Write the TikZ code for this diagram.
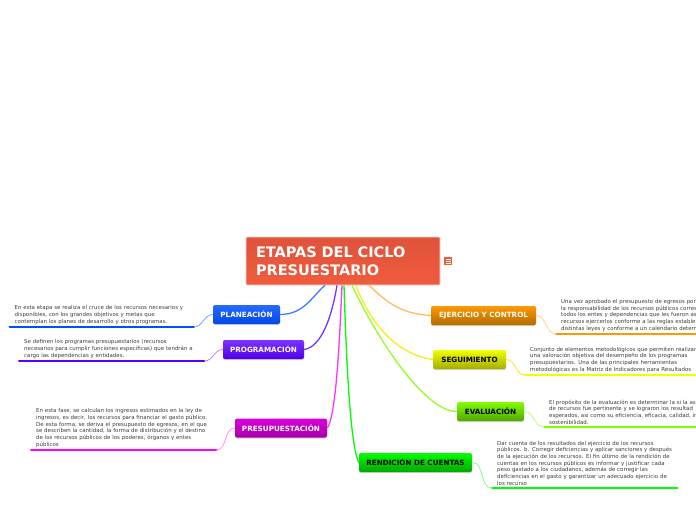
\documentclass[tikz,border=0pt]{standalone}
\usepackage{fontspec}
\setmainfont{DejaVu Sans}
\usepackage{xcolor}
\usetikzlibrary{positioning,calc}
\usetikzlibrary{shadows}
\definecolor{txtgray}{HTML}{3C3C3C}
\tikzset{
	central/.style={rectangle,rounded corners=1pt,draw=red!15,line width=0.6pt,top color=rootdark,bottom color=rootlight,
		minimum width=194pt,minimum height=48pt,inner sep=0pt,text width=174pt,align=left,
		text=white,font=\fontsize{14.5}{18}\selectfont\bfseries},
	topic/.style={rectangle,rounded corners=2pt,drop shadow={shadow xshift=0pt,shadow yshift=-1pt,opacity=0.35},
		minimum height=19pt,inner sep=0pt,font=\fontsize{7.2}{8}\selectfont\bfseries},
	note/.style={anchor=south west,inner xsep=5pt,inner ysep=2.6pt,align=left,text=txtgray,
		font=\fontsize{5.45}{6.67}\selectfont},
	rule/.style={line width=2pt,line cap=round},
	link/.style={line width=1.3pt},
	sublink/.style={line width=0.7pt},
}
\definecolor{rootdark}{HTML}{DF533B}
\definecolor{rootlight}{HTML}{F15B3D}
\definecolor{plan}{HTML}{0050FF}
\definecolor{prog}{HTML}{5A00FF}
\definecolor{pres}{HTML}{FF00FF}
\definecolor{ejer}{HTML}{FF9900}
\definecolor{segu}{HTML}{F0FF00}
\definecolor{eval}{HTML}{80FF00}
\definecolor{rend}{HTML}{00FF00}
\begin{document}
\begin{tikzpicture}[x=1pt,y=-1pt]
	\useasboundingbox (0,0) rectangle (696,520);
	\clip (0,0) rectangle (696,520);

	% Central topic
	\node[central] (root) at (343,261) {ETAPAS DEL CICLO\\PRESUESTARIO};
	\node[right=3.5pt of root,rectangle,fill=rootlight,minimum size=8pt,inner sep=0pt] (icon) {};
	\foreach \i in {-2,0,2} {
		\draw[white,line width=0.8pt] ($(icon.center)+(-2.5,\i)$) -- ($(icon.center)+(2.5,\i)$);
	}

	% Left topics
	\node[topic,minimum width=67pt,text=white,top color=plan!85!white,bottom color=plan!90!black] (planeacion) at (246.5,314.5) {PLANEACIÓN};
	\node[topic,minimum width=81pt,text=white,top color=prog!80!white,bottom color=prog!90!black] (programacion) at (263.5,349.5) {PROGRAMACIÓN};
	\node[topic,minimum width=92pt,text=white,top color=pres!85!black,bottom color=pres!65!black] (presupuestacion) at (281,428) {PRESUPUESTACIÓN};

	% Right topics
	\node[topic,minimum width=105pt,text=white,top color=ejer,bottom color=ejer!70!black] (ejercicio) at (483.5,315.5) {EJERCICIO Y CONTROL};
	\node[topic,minimum width=73pt,top color=segu,bottom color=segu!68!black] (seguimiento) at (469.5,359.5) {SEGUIMIENTO};
	\node[topic,minimum width=67pt,top color=eval,bottom color=eval!65!black] (evaluacion) at (490.5,411.5) {EVALUACIÓN};
	\node[topic,minimum width=113pt,top color=rend,bottom color=rend!65!black] (rendicion) at (415.5,462.5) {RENDICIÓN DE CUENTAS};

	% Notes
	\node[note,text width=174pt] (noteplan) at (9.5,327) {En esta etapa se realiza el cruce de los recursos necesarios y\\disponibles, con los grandes objetivos y metas que\\contemplan los planes de desarrollo y otros programas.};
	\node[note,text width=175pt] (noteprog) at (19,361) {Se definen los programas presupuestarios (recursos\\necesarios para cumplir funciones específicas) que tendrán a\\cargo las dependencias y entidades.};
	\node[note,text width=175pt] (notepres) at (31,450) {En esta fase, se calculan los ingresos estimados en la ley de\\ingresos, es decir, los recursos para financiar el gasto público.\\De esta forma, se deriva el presupuesto de egresos, en el que\\se describen la cantidad, la forma de distribución y el destino\\de los recursos públicos de los poderes, órganos y entes\\públicos};
	\node[note,text width=175pt] (noteejer) at (556,334) {Una vez aprobado el presupuesto de egresos por\\la responsabilidad de los recursos públicos corres\\todos los entes y dependencias que les fueron as\\recursos ejercerlos conforme a las reglas estable\\distintas leyes y conforme a un calendario determ};
	\node[note,text width=175pt] (notesegu) at (525,375) {Conjunto de elementos metodológicos que permiten realizar\\una valoración objetiva del desempeño de los programas\\presupuestarios. Una de las principales herramientas\\metodológicas es la Matriz de Indicadores para Resultados};
	\node[note,text width=175pt] (noteeval) at (544,427) {El propósito de la evaluación es determinar la si la as\\de recursos fue pertinente y se lograron los resultad\\esperados, así como su eficiencia, eficacia, calidad, in\\sostenibilidad.};
	\node[note,text width=175pt] (noterend) at (492,488) {Dar cuenta de los resultados del ejercicio de los recursos\\públicos. b. Corregir deficiencias y aplicar sanciones y después\\de la ejecución de los recursos. El fin último de la rendición de\\cuentas en los recursos públicos es informar y justificar cada\\peso gastado a los ciudadanos, además de corregir las\\deficiencias en el gasto y garantizar un adecuado ejercicio de\\los recurso};

	% Rules below the notes
	\draw[rule,plan] (noteplan.south west) -- (noteplan.south east);
	\draw[rule,prog] (noteprog.south west) -- (noteprog.south east);
	\draw[rule,pres] (notepres.south west) -- (notepres.south east);
	\draw[rule,ejer] (noteejer.south west) -- (noteejer.south east);
	\draw[rule,segu] (notesegu.south west) -- (notesegu.south east);
	\draw[rule,eval] (noteeval.south west) -- (noteeval.south east);
	\draw[rule,rend] (noterend.south west) -- (noterend.south east);

	% Topics to central topic
	\draw[link,plan!75!white] (planeacion.east) .. controls ($(planeacion.east)+(24,0)$) and ($(root.south)+(-30,10)$) .. ($(root.south)+(-18,0)$);
	\draw[link,prog!80!white] (programacion.east) .. controls ($(programacion.east)+(18,-3)$) and ($(root.south)+(-11,30)$) .. ($(root.south)+(-6,0)$);
	\draw[link,pres!80!white] (presupuestacion.east) .. controls ($(presupuestacion.east)+(8,-10)$) and ($(root.south)+(-4,70)$) .. ($(root.south)+(-1,0)$);
	\draw[link,rend] (rendicion.west) .. controls ($(rendicion.west)+(-9,-17)$) and ($(root.south)+(3,65)$) .. ($(root.south)+(1,0)$);
	\draw[link,eval!85!white] (evaluacion.west) .. controls ($(evaluacion.west)+(-32,0)$) and ($(root.south)+(35,55)$) .. ($(root.south)+(9,0)$);
	\draw[link,segu!85!orange!90!white] (seguimiento.west) .. controls ($(seguimiento.west)+(-35,-5)$) and ($(root.south)+(28,40)$) .. ($(root.south)+(13,0)$);
	\draw[link,ejer!65!white] (ejercicio.west) .. controls ($(ejercicio.west)+(-30,-2)$) and ($(root.south)+(45,18)$) .. ($(root.south)+(26,0)$);

	% Topics to notes
	\draw[sublink,plan!60!white] (planeacion.west) to[out=180,in=0] (noteplan.south east);
	\draw[sublink,prog!50!white] (programacion.west) to[out=180,in=0] (noteprog.south east);
	\draw[sublink,pres!50!white] (presupuestacion.west) to[out=180,in=0] (notepres.south east);
	\draw[sublink,ejer!50!white] (ejercicio.east) to[out=0,in=180] (noteejer.south west);
	\draw[sublink,segu!80!orange] (seguimiento.east) to[out=0,in=180] (notesegu.south west);
	\draw[sublink,eval!60!white] (evaluacion.east) to[out=0,in=180] (noteeval.south west);
	\draw[sublink,rend!55!white] (rendicion.east) to[out=0,in=180] (noterend.south west);
\end{tikzpicture}
\end{document}
